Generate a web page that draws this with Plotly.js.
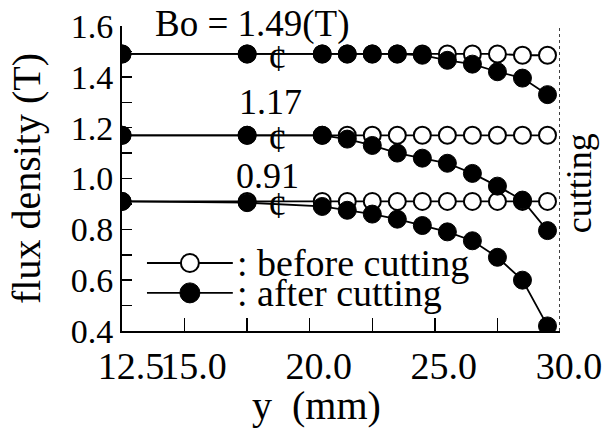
<!DOCTYPE html>
<html>
<head>
<meta charset="utf-8">
<script src="https://cdn.plot.ly/plotly-3.0.1.min.js"></script>
<style>html,body{margin:0;padding:0;background:#fff;}#chart{width:614px;height:432px;}</style>
</head>
<body>
<div id="chart"></div>
<script>
// position along y (mm)
const yPos = [12.5, 17.5, 20.5, 21.5, 22.5, 23.5, 24.5, 25.5, 26.5, 27.5, 28.5, 29.5];

// Bo = 1.49 T
const before149 = [1.49, 1.49, 1.49, 1.49, 1.49, 1.49, 1.49, 1.49, 1.49, 1.49, 1.485, 1.485];
const after149  = [1.49, 1.49, 1.49, 1.49, 1.49, 1.49, 1.485, 1.465, 1.45, 1.42, 1.395, 1.33];
// Bo = 1.17 T
const before117 = [1.17, 1.17, 1.17, 1.17, 1.17, 1.17, 1.17, 1.17, 1.17, 1.17, 1.17, 1.17];
const after117  = [1.17, 1.17, 1.17, 1.155, 1.13, 1.10, 1.08, 1.06, 1.02, 0.97, 0.915, 0.795];
// Bo = 0.91 T
const before091 = [0.91, 0.91, 0.91, 0.91, 0.91, 0.91, 0.91, 0.91, 0.91, 0.91, 0.91, 0.91];
const after091  = [0.91, 0.905, 0.89, 0.875, 0.86, 0.84, 0.815, 0.79, 0.755, 0.69, 0.60, 0.42];

const levelLabels = ["Bo = 1.49(T)", "1.17", "0.91"];
const levels = [1.49, 1.17, 0.91];

const xTickVals = [12.5, 15, 17.5, 20, 22.5, 25, 27.5, 30];
const xTickText = ["12.5", "15.0", "", "20.0", "", "25.0", "", "30.0"];
const yTickVals = [0.4, 0.5, 0.6, 0.7, 0.8, 0.9, 1.0, 1.1, 1.2, 1.3, 1.4, 1.5, 1.6];
const yTickText = ["0.4", "", "0.6", "", "0.8", "", "1.0", "", "1.2", "", "1.4", "", "1.6"];

const xTitle = "y  (mm)";
const yTitle = "flux density (T)";
const legendNames = [": before cutting", ": after cutting"];
const cutLabel = "cutting";
const cutPos = 30;
const breakPos = 18.7;

const FONT = "Liberation Serif";

function openTrace(y) {
  return {x: yPos, y: y, mode: "lines+markers", type: "scatter", showlegend: false,
    line: {color: "#000", width: 1.8},
    marker: {symbol: "circle", size: 17, color: "#fff", line: {color: "#000", width: 2}}};
}
function filledTrace(y) {
  return {x: yPos, y: y, mode: "lines+markers", type: "scatter", showlegend: false,
    line: {color: "#000", width: 1.8},
    marker: {symbol: "circle", size: 18, color: "#000", line: {color: "#000", width: 1}}};
}

const data = [
  openTrace(before149), openTrace(before117), openTrace(before091),
  filledTrace(after149), filledTrace(after117), filledTrace(after091)
];

const annotations = [
  {x: 17.7, y: 1.0066, xref: "x", yref: "paper", yanchor: "middle", text: levelLabels[0], showarrow: false,
   font: {family: FONT, size: 37, color: "#000"}},
  {x: 18.45, y: 1.30, xref: "x", yref: "y", text: levelLabels[1], showarrow: false,
   font: {family: FONT, size: 36, color: "#000"}},
  {x: 18.33, y: 1.011, xref: "x", yref: "y", text: levelLabels[2], showarrow: false,
   font: {family: FONT, size: 36, color: "#000"}},
  {x: 1.044, y: 0.485, xref: "paper", yref: "paper", xanchor: "center", yanchor: "middle", text: cutLabel,
   textangle: -90, showarrow: false, font: {family: FONT, size: 36, color: "#000"}},
  {x: 0.258, y: 0.223, xref: "paper", yref: "paper", xanchor: "left", yanchor: "middle",
   text: legendNames[0], showarrow: false, font: {family: FONT, size: 38, color: "#000"}},
  {x: 0.258, y: 0.125, xref: "paper", yref: "paper", xanchor: "left", yanchor: "middle",
   text: legendNames[1], showarrow: false, font: {family: FONT, size: 38, color: "#000"}},
  {x: 0.445, y: -0.243, xref: "paper", yref: "paper", xanchor: "center", yanchor: "middle",
   text: xTitle, showarrow: false, font: {family: FONT, size: 40, color: "#000"}}
];
levels.forEach(function (lv) {
  annotations.push({x: breakPos, y: lv, xref: "x", yref: "y", text: "¢", showarrow: false,
    yshift: -4, font: {family: FONT, size: 38, color: "#000"}});
});

const shapes = [
  {type: "line", xref: "x", yref: "y", x0: cutPos, x1: cutPos, y0: 0.4, y1: 1.6,
   line: {color: "#000", width: 1.5, dash: "dot"}},
  // legend samples
  {type: "line", xref: "paper", yref: "paper", x0: 0.057, x1: 0.253, y0: 0.223, y1: 0.223,
   line: {color: "#000", width: 1.8}},
  {type: "line", xref: "paper", yref: "paper", x0: 0.057, x1: 0.253, y0: 0.125, y1: 0.125,
   line: {color: "#000", width: 1.8}},
  {type: "circle", xref: "paper", yref: "paper", xsizemode: "pixel", ysizemode: "pixel",
   xanchor: 0.155, yanchor: 0.223, x0: -9, x1: 9, y0: -9, y1: 9,
   fillcolor: "#fff", line: {color: "#000", width: 2}},
  {type: "circle", xref: "paper", yref: "paper", xsizemode: "pixel", ysizemode: "pixel",
   xanchor: 0.155, yanchor: 0.125, x0: -10, x1: 10, y0: -10, y1: 10,
   fillcolor: "#000", line: {color: "#000", width: 1}}
];

const layout = {
  width: 614, height: 432,
  margin: {l: 122, r: 54, t: 26, b: 101},
  paper_bgcolor: "#fff", plot_bgcolor: "#fff",
  showlegend: false,
  font: {family: FONT, color: "#000"},
  xaxis: {
    range: [12.5, 30], tickmode: "array", tickvals: xTickVals, ticktext: xTickText,
    tickangle: 0, automargin: false, ticklabelshift: 9,
    ticks: "inside", ticklen: 13, tickwidth: 1.5, tickcolor: "#000",
    showline: true, linecolor: "#000", linewidth: 2, showgrid: false, zeroline: false,
    tickfont: {family: FONT, size: 38, color: "#000"}
  },
  yaxis: {
    range: [0.4, 1.6], tickmode: "array", tickvals: yTickVals, ticktext: yTickText,
    tickangle: 0, automargin: false,
    ticks: "inside", ticklen: 10, tickwidth: 1.5, tickcolor: "#000",
    showline: true, linecolor: "#000", linewidth: 2, showgrid: false, zeroline: false,
    tickfont: {family: FONT, size: 34, color: "#000"},
    title: {text: yTitle, font: {family: FONT, size: 40, color: "#000"}, standoff: 18}
  },
  annotations: annotations,
  shapes: shapes
};

Plotly.newPlot("chart", data, layout, {staticPlot: true, displayModeBar: false});
</script>
</body>
</html>
